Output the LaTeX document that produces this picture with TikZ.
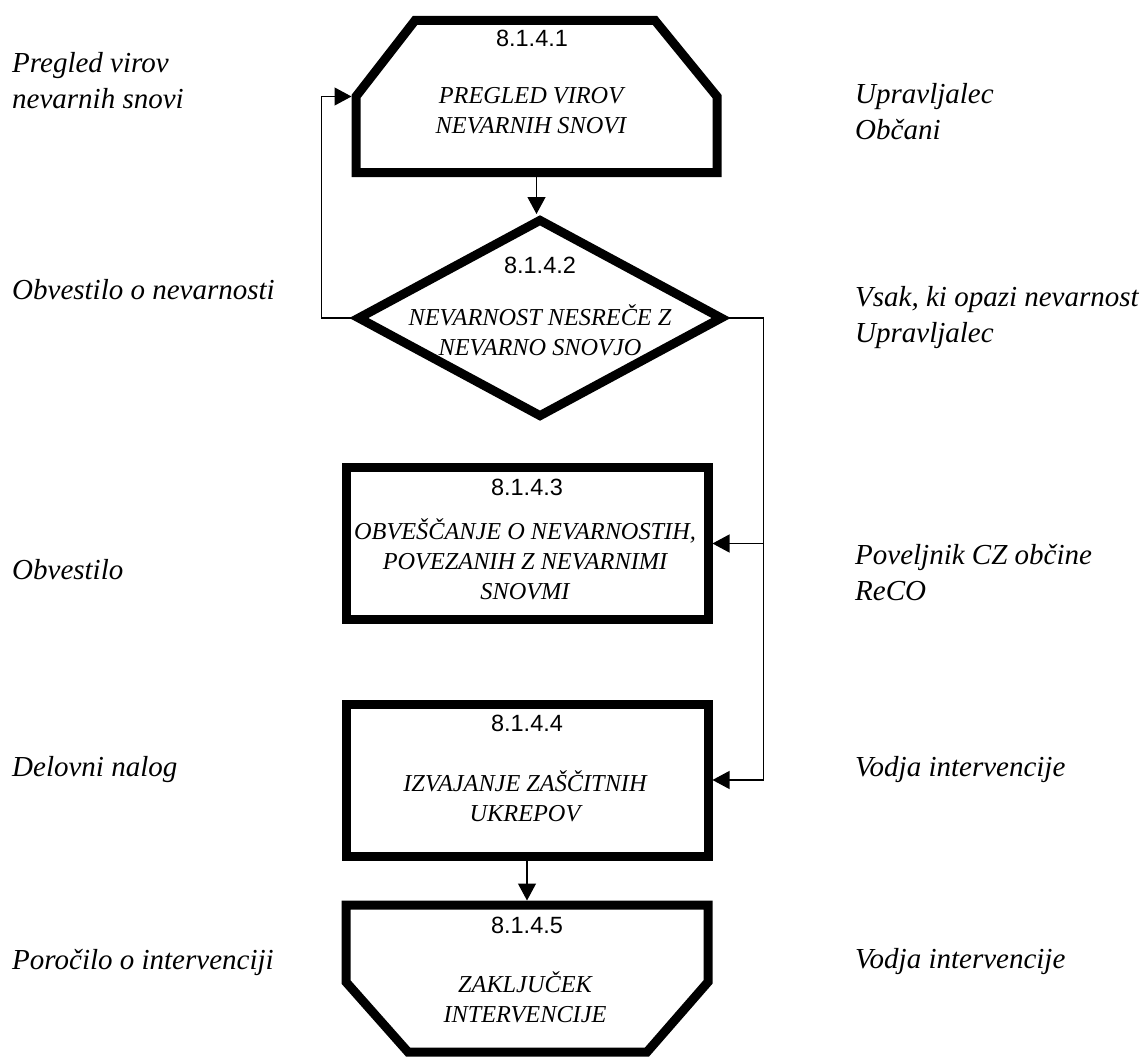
\documentclass[tikz,border=0pt]{standalone}
\usepackage{fontspec}
\setmainfont{Liberation Serif}
\newfontfamily\numfont{Liberation Sans}
\usetikzlibrary{arrows.meta,shapes.geometric,positioning}

\begin{document}
\begin{tikzpicture}[x=1pt,y=-1pt,
   heavy/.style={line width=9pt,line join=miter},
   hull/.style={rectangle,inner sep=0pt,outer sep=0pt,minimum width=362pt},
   box/.style={heavy,draw,rectangle,inner sep=0pt,minimum width=362pt,minimum height=152pt},
   choice/.style={heavy,draw,diamond,inner sep=0pt,minimum width=366pt,minimum height=199pt},
   num/.style={font=\numfont\fontsize{23.5}{28}\selectfont,inner sep=0pt},
   task/.style={font=\itshape\fontsize{24.3}{30}\selectfont,align=center,inner sep=0pt},
   side/.style={font=\itshape\fontsize{29}{36}\selectfont,align=left,anchor=west,inner sep=0pt},
   link/.style={line width=1.2pt},
   arr/.style={link,-{Triangle[length=17pt,width=18pt]}}]
\useasboundingbox (0,0) rectangle (1144,1057);

% shapes
\node[hull,minimum width=361pt,minimum height=152pt] (pregled) at (536.5,96.5) {};
\draw[heavy] ([xshift=59pt]pregled.north west) -- ([xshift=-62pt]pregled.north east)
   -- (pregled.east) -- (pregled.south east) -- (pregled.south west) -- (pregled.west) -- cycle;
\node[choice] (nevarnost) at (540,318) {};
\node[box] (obvescanje) at (527,543.5) {};
\node[box] (izvajanje) at (527,780) {};
\node[hull,minimum height=147pt] (zakljucek) at (527,978.5) {};
\draw[heavy] (zakljucek.north west) -- (zakljucek.north east) -- ([yshift=-3.5pt]zakljucek.east)
   -- ([xshift=-61pt]zakljucek.south east) -- ([xshift=62pt]zakljucek.south west)
   -- ([yshift=-3.5pt]zakljucek.west) -- cycle;

% texts in the shapes
\node[num] at (532,38.5) {8.1.4.1};
\node[task] at (531,110.5) {PREGLED VIROV\\NEVARNIH SNOVI};
\node[num] at (540,265) {8.1.4.2};
\node[task] at (540,330) {NEVARNOST NESREČE Z\\NEVARNO SNOVJO};
\node[num] at (527,487.5) {8.1.4.3};
\node[task] at (525,559.5) {OBVEŠČANJE O NEVARNOSTIH,\\POVEZANIH Z NEVARNIMI\\SNOVMI};
\node[num] at (527,723) {8.1.4.4};
\node[task] at (525,796) {IZVAJANJE ZAŠČITNIH\\UKREPOV};
\node[num] at (527,925.5) {8.1.4.5};
\node[task] at (525,997.5) {ZAKLJUČEK\\INTERVENCIJE};

% side labels
\node[side] at (12,81) {Pregled virov\\nevarnih snovi};
\node[side] at (12,290) {Obvestilo o nevarnosti};
\node[side] at (12,570) {Obvestilo};
\node[side] at (12,770) {Delovni nalog};
\node[side] at (12,962) {Poročilo o intervenciji};
\node[side] at (855,112) {Upravljalec\\Občani};
\node[side] at (855,318) {Vsak, ki opazi nevarnost\\Upravljalec};
\node[side] at (855,573) {Poveljnik CZ občine\\ReCO};
\node[side] at (855,770) {Vodja intervencije};
\node[side] at (855,962) {Vodja intervencije};

% connectors
\draw[arr] (pregled.south) -- (pregled.south |- nevarnost.north);
\draw[arr,shorten >=4.5pt] (nevarnost.west) -- ++(-31,0) |- (pregled.west);
\coordinate[right=36pt of nevarnost.east] (rail);
\draw[link] (nevarnost.east) -- (rail);
\draw[arr] (rail) |- (izvajanje.east);
\draw[arr] (rail |- obvescanje.east) -- (obvescanje.east);
\draw[arr,shorten >=4.5pt] (izvajanje.south) -- (zakljucek.north);
\end{tikzpicture}
\end{document}
